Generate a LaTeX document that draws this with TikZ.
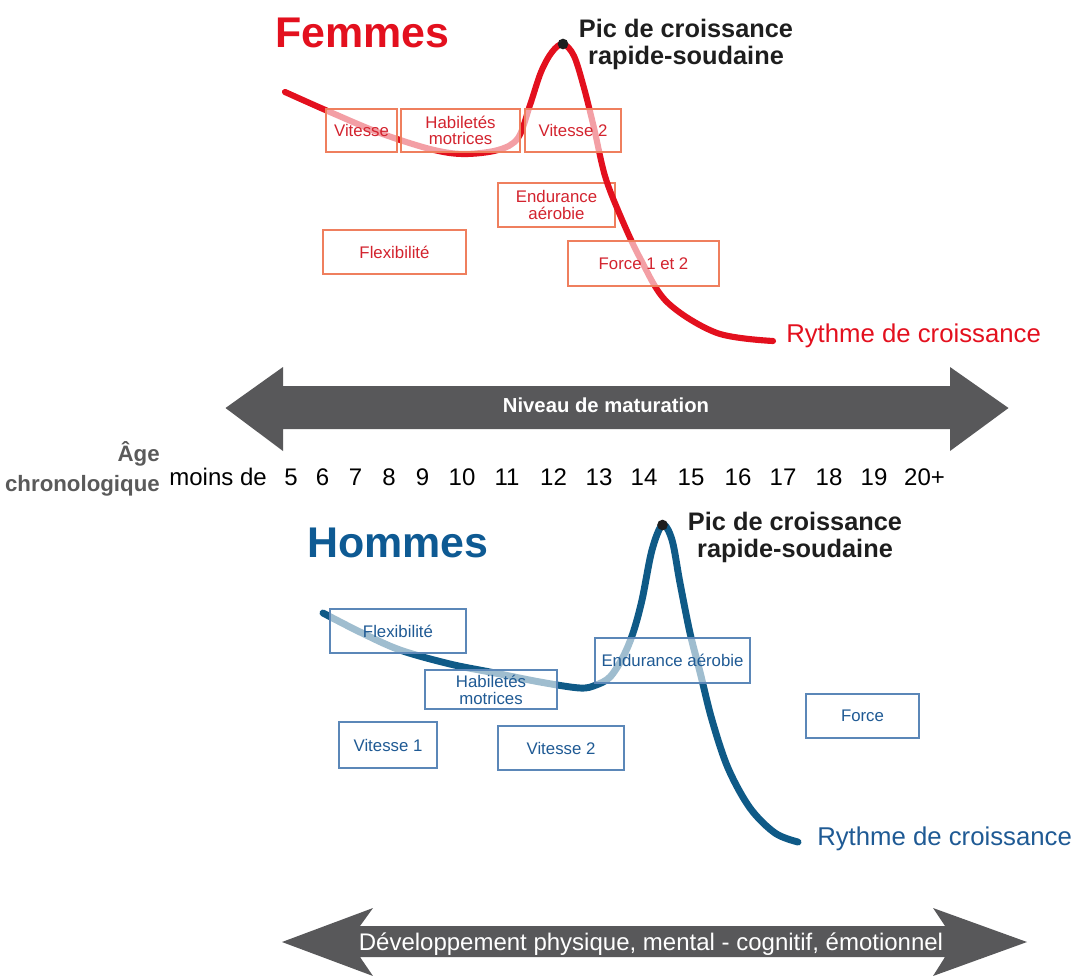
\documentclass[tikz,border=0pt]{standalone}
\usepackage{fontspec}
\setmainfont{Liberation Sans}

\definecolor{femred}{HTML}{E3101E}
\definecolor{femorange}{HTML}{EF7F5E}
\definecolor{femtext}{HTML}{D3232E}
\definecolor{homblue}{HTML}{0E5A93}
\definecolor{homcurve}{HTML}{0F5A87}
\definecolor{homborder}{HTML}{5B87B8}
\definecolor{homtext}{HTML}{1F5A94}
\definecolor{arrowgray}{HTML}{58585A}
\definecolor{agegray}{HTML}{5A5A5A}
\definecolor{pictext}{HTML}{1E1E1E}

\begin{document}
\begin{tikzpicture}[x=0.75pt,y=-0.75pt,
    femcurve/.style={line width=4.6pt,color=femred,line cap=round},
    homcurve/.style={line width=5.2pt,color=homcurve,line cap=round},
    qualbox/.style 2 args={draw,line width=2.2pt,fill=white,fill opacity=0.6,
      text opacity=1,draw opacity=1,inner sep=0pt,align=center,
      minimum width=#1*0.75pt,minimum height=#2*0.75pt},
    fembox/.style={draw=femorange,text=femtext,font=\fontsize{12.6}{12.4}\selectfont},
    hombox/.style={draw=homborder,text=homtext,font=\fontsize{12.6}{12.6}\selectfont},
    pictitle/.style={text=pictext,font=\bfseries\fontsize{19}{20}\selectfont,align=center,inner sep=0pt},
    agenum/.style={font=\fontsize{18}{20}\selectfont,inner sep=0pt,anchor=base}]
  \useasboundingbox (0,0) rectangle (1073,975);

  % Femmes
  \node[text=femred,font=\bfseries\fontsize{32.2}{36}\selectfont,inner sep=0pt,anchor=base west]
    (femmes) at (275,47) {Femmes};
  \node[qualbox={117}{44},fembox] (endF) at (556.5,205) {Endurance\\a\'erobie};
  \draw[femcurve] plot[smooth,tension=0.55] coordinates {(285,92) (330,112) (380,133)
    (430,149) (463,154) (498,150) (518,138) (530,105) (541,72) (552,52) (563,44)
    (574,56) (584,88) (594,128) (605,176) (620,215) (640,258) (667,302) (717,333) (773,341)};
  \coordinate (picF) at (563,44);
  \fill[pictext] (picF) circle (4pt);
  \node[pictitle,anchor=base] (picFtext) at (686,64) {Pic de croissance\\rapide-soudaine};
  \node[qualbox={71}{43},fembox] (vitF) at (361.5,130.5) {Vitesse};
  \node[qualbox={119}{43},fembox] (habF) at (460.5,130.5) {Habilet\'es\\motrices};
  \node[qualbox={96}{43},fembox] (vit2F) at (573,130.5) {Vitesse 2};
  \node[qualbox={143}{44},fembox] (flexF) at (394.5,252) {Flexibilit\'e};
  \node[qualbox={151}{45},fembox] (forF) at (643.5,263.5) {Force 1 et 2};
  \node[text=femred,font=\fontsize{19.3}{22}\selectfont,inner sep=0pt,anchor=base west]
    (rythF) at (786,342) {Rythme de croissance};

  % maturation
  \fill[arrowgray] (225.5,408) -- (283,367) -- (283,386) -- (950,386) -- (950,367)
    -- (1008.5,408) -- (950,451) -- (950,429) -- (283,429) -- (283,451) -- cycle;
  \node[text=white,font=\bfseries\fontsize{15.2}{18}\selectfont,inner sep=0pt,anchor=base]
    (niveau) at (606,412) {Niveau de maturation};
  \node[text=agegray,font=\bfseries\fontsize{16.7}{22.5}\selectfont,align=right,inner sep=0pt,anchor=base east]
    (age) at (160,491) {\^Age\\chronologique};
  \node[agenum,anchor=base east] (moins) at (267,485) {moins de};
  \foreach \a/\x [count=\i] in {5/291,6/322.5,7/355.5,8/389,9/422.5,10/462,11/507,
      12/553.5,13/599,14/644,15/691,16/738,17/783,18/829,19/874,20+/924.5}
    \node[agenum] (age\i) at (\x,485) {\a};

  % Hommes
  \node[text=homblue,font=\bfseries\fontsize{32.2}{36}\selectfont,inner sep=0pt,anchor=base west]
    (hommes) at (307,557) {Hommes};
  \draw[homcurve] plot[smooth,tension=0.55] coordinates {(323,613) (360,632) (400,650)
    (450,664) (490,672) (540,682) (580,688) (596,685) (610,677) (623,657) (633,633)
    (642,600) (652,550) (662.5,525) (672,540) (680,583) (690,633) (700,672)
    (712,720) (728,768) (750,808) (775,833) (798,842)};
  \coordinate (picH) at (662.5,525);
  \fill[pictext] (picH) circle (4pt);
  \node[pictitle,anchor=base] (picHtext) at (795,557) {Pic de croissance\\rapide-soudaine};
  \node[qualbox={136}{44},hombox] (flexH) at (398,631) {Flexibilit\'e};
  \node[qualbox={132}{39},hombox] (habH) at (491,689.5) {Habilet\'es\\motrices};
  \node[qualbox={155}{45},hombox] (endH) at (672.5,660.5) {Endurance a\'erobie};
  \node[qualbox={98}{46},hombox] (vit1H) at (388,745) {Vitesse 1};
  \node[qualbox={126}{44},hombox] (vit2H) at (561,748) {Vitesse 2};
  \node[qualbox={113}{44},hombox] (forH) at (862.5,716) {Force};
  \node[text=homtext,font=\fontsize{19.3}{22}\selectfont,inner sep=0pt,anchor=base west]
    (rythH) at (817,845) {Rythme de croissance};

  % developpement
  \fill[arrowgray] (282,942) -- (373,908) -- (360,926) -- (945,926) -- (933,908)
    -- (1027,942) -- (933,976) -- (945,957) -- (360,957) -- (373,976) -- cycle;
  \node[text=white,font=\fontsize{18}{20}\selectfont,inner sep=0pt,anchor=base]
    (devel) at (651,950) {D\'eveloppement physique, mental - cognitif, \'emotionnel};
\end{tikzpicture}
\end{document}
